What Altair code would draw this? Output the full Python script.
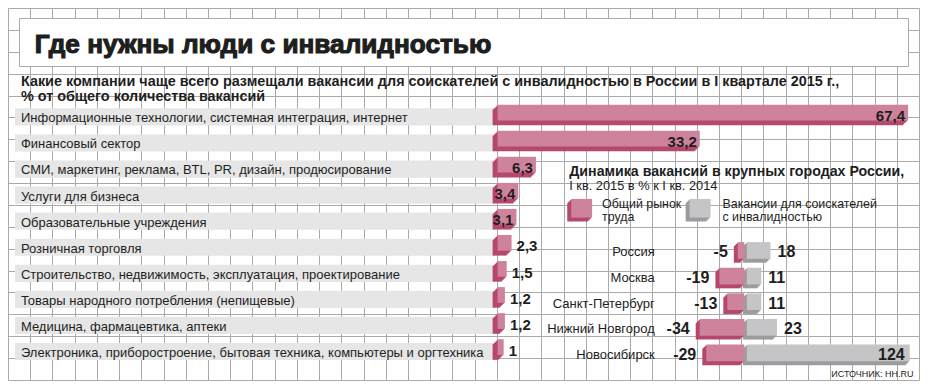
import altair as alt
import pandas as pd
import numpy as np

# ---------------- data ----------------
title_text = "Где нужны люди с инвалидностью"
subtitle_lines = [
    "Какие компании чаще всего размещали вакансии для соискателей с инвалидностью в России в I квартале 2015 г.,",
    "% от общего количества вакансий",
]
categories = [
    "Информационные технологии, системная интеграция, интернет",
    "Финансовый сектор",
    "СМИ, маркетинг, реклама, BTL, PR, дизайн, продюсирование",
    "Услуги для бизнеса",
    "Образовательные учреждения",
    "Розничная торговля",
    "Строительство, недвижимость, эксплуатация, проектирование",
    "Товары народного потребления (непищевые)",
    "Медицина, фармацевтика, аптеки",
    "Электроника, приборостроение, бытовая техника, компьютеры и оргтехника",
]
shares = [67.4, 33.2, 6.3, 3.4, 3.1, 2.3, 1.5, 1.2, 1.2, 1.0]

panel_title = "Динамика вакансий в крупных городах России,"
panel_subtitle = "I кв. 2015 в % к I кв. 2014"
legend_market = ["Общий рынок", "труда"]
legend_disabled = ["Вакансии для соискателей", "с инвалидностью"]
cities = ["Россия", "Москва", "Санкт-Петербург", "Нижний Новгород", "Новосибирск"]
market_change = [-5, -19, -13, -34, -29]
disabled_change = [18, 11, 11, 23, 124]
source_text = "ИСТОЧНИК: HH.RU"

# ---------------- style ----------------
PINK = "#cf829c"
PINK_DARK = "#b5486e"
GREY_BAR = "#c5c5c7"
GREY_DARK = "#9c9c9e"
BAND = "#e6e6e6"
GRID = "#a9a9a9"
TEXT = "#1e1e1e"
FONT = "'Liberation Sans', Arial, sans-serif"

W, H = 912, 373
SX = (W - 1) / (921 - 5.5)
SY = (H - 1) / (383 - 4)


def X(x):
    return 0.5 + (x - 5.5) * SX


def Y(y):
    return 0.5 + (y - 4) * SY


def band(domain, c0, step, shift=0.0):
    n = len(domain)
    return alt.Scale(domain=domain,
                     range=[Y(c0 - step / 2 + shift), Y(c0 + (n - 1) * step + step / 2 + shift)],
                     paddingInner=0, paddingOuter=0)


def lin(domain, r0, r1, dx=0.0):
    return alt.Scale(domain=domain, range=[X(r0 + dx), X(r1 + dx)], nice=False, zero=False)


def one(**kw):
    return alt.Chart(pd.DataFrame([kw]))


layers = []

# background grid
vx = [float(np.floor(X(5.5 + 22.33 * i))) + 0.5 for i in range(42)]
hy = [float(np.floor(Y(4 + 22.294 * j))) + 0.5 for j in range(18)]
layers.append(alt.Chart(pd.DataFrame({"gx": vx})).mark_rule(color=GRID, strokeWidth=1).encode(
    x=alt.X("gx:Q", scale=None), y=alt.value(Y(4)), y2=alt.value(Y(383))))
layers.append(alt.Chart(pd.DataFrame({"gy": hy})).mark_rule(color=GRID, strokeWidth=1).encode(
    y=alt.Y("gy:Q", scale=None), x=alt.value(X(5.5)), x2=alt.value(X(921))))

# title box
layers.append(one(t=title_text).mark_rect(fill="white", stroke=GRID, strokeWidth=1).encode(
    x=alt.value(np.floor(X(17)) + 0.5), x2=alt.value(np.floor(X(910)) + 0.5),
    y=alt.value(np.floor(Y(14)) + 0.5), y2=alt.value(np.floor(Y(63)) + 0.5)))
layers.append(one(t=title_text).mark_text(align="left", baseline="alphabetic", font=FONT,
                                          fontSize=26.2, fontWeight="bold", color=TEXT,
                                          stroke=TEXT, strokeWidth=1.1).encode(
    x=alt.value(X(32)), y=alt.value(Y(49)), text="t:N"))

# subtitle
for i, line in enumerate(subtitle_lines):
    layers.append(one(t=line).mark_text(align="left", baseline="alphabetic", font=FONT,
                                        fontSize=14.4, fontWeight="bold", color=TEXT).encode(
        x=alt.value(X(18)), y=alt.value(Y(82.5 + 15.5 * i)), text="t:N"))

# ---------------- left bar chart ----------------
left = pd.DataFrame({"category": categories, "share": shares})
left["label"] = [f"{v:g}".replace(".", ",") for v in shares]
C0, STEP = 114.5, 26.55
X0, XPU = 497.0, 6.12
XEND = X0 + max(shares) * XPU

# grey label bands
layers.append(alt.Chart(left).mark_bar(color=BAND, height=17.5 * SY).encode(
    x=alt.value(X(12)), x2=alt.value(X(495)),
    y=alt.Y("category:N", scale=band(categories, C0, STEP), axis=None)))
# labels
layers.append(alt.Chart(left).mark_text(align="left", baseline="alphabetic", font=FONT,
                                        fontSize=13, color=TEXT).encode(
    x=alt.value(X(18)),
    y=alt.Y("category:N", scale=band(categories, C0, STEP, 5.5), axis=None),
    text="category:N"))
# 3D bars: extruded side then front face
for k in range(5, 0, -1):
    layers.append(alt.Chart(left).mark_bar(color=PINK_DARK, height=16 * SY).encode(
        x=alt.X("share:Q", scale=lin([0, max(shares)], X0, XEND, -k), axis=None),
        y=alt.Y("category:N", scale=band(categories, C0, STEP, -4.5 + k), axis=None)))
layers.append(alt.Chart(left).mark_bar(color=PINK, height=16 * SY).encode(
    x=alt.X("share:Q", scale=lin([0, max(shares)], X0, XEND), axis=None),
    y=alt.Y("category:N", scale=band(categories, C0, STEP, -4.5), axis=None)))
# value labels
layers.append(alt.Chart(left).transform_filter("datum.share >= 3").mark_text(
    align="right", baseline="alphabetic", font=FONT, fontSize=15, fontWeight="bold",
    color=TEXT, dx=-3).encode(
    x=alt.X("share:Q", scale=lin([0, max(shares)], X0, XEND), axis=None),
    y=alt.Y("category:N", scale=band(categories, C0, STEP, 3.8), axis=None),
    text="label:N"))
layers.append(alt.Chart(left).transform_filter("datum.share < 3").mark_text(
    align="left", baseline="alphabetic", font=FONT, fontSize=15, fontWeight="bold",
    color=TEXT, dx=5).encode(
    x=alt.X("share:Q", scale=lin([0, max(shares)], X0, XEND), axis=None),
    y=alt.Y("category:N", scale=band(categories, C0, STEP, 4.3), axis=None),
    text="label:N"))

# ---------------- right panel ----------------
layers.append(one(t=panel_title).mark_text(align="left", baseline="alphabetic", font=FONT,
                                           fontSize=14.2, fontWeight="bold", color=TEXT).encode(
    x=alt.value(X(569)), y=alt.value(Y(175)), text="t:N"))
layers.append(one(t=panel_subtitle).mark_text(align="left", baseline="alphabetic", font=FONT,
                                              fontSize=12.8, color=TEXT).encode(
    x=alt.value(X(569)), y=alt.value(Y(189)), text="t:N"))

# legend swatches (3D squares)
for (fx, front, dark) in [(571, PINK, PINK_DARK), (690, GREY_BAR, GREY_DARK)]:
    for k in range(4, 0, -1):
        layers.append(one(t="").mark_rect(color=dark).encode(
            x=alt.value(X(fx - k)), x2=alt.value(X(fx + 21 - k)),
            y=alt.value(Y(198 + k)), y2=alt.value(Y(217 + k))))
    layers.append(one(t="").mark_rect(color=front).encode(
        x=alt.value(X(fx)), x2=alt.value(X(fx + 21)),
        y=alt.value(Y(198)), y2=alt.value(Y(217))))
for lx, lines in [(602, legend_market), (723, legend_disabled)]:
    for i, line in enumerate(lines):
        layers.append(one(t=line).mark_text(align="left", baseline="alphabetic", font=FONT,
                                            fontSize=12.4, color=TEXT).encode(
            x=alt.value(X(lx)), y=alt.value(Y(207 + 13.5 * i)), text="t:N"))

# city bars
right = pd.DataFrame({"city": cities, "market": market_change, "disabled": disabled_change})
right["mlabel"] = [str(v) for v in market_change]
right["dlabel"] = [str(v) for v in disabled_change]
RC0, RSTEP = 250.5, 26.1
ZERO, RPU = 747.5, 1.32
DMIN, DMAX = min(market_change), max(disabled_change)
RX0, RX1 = ZERO + DMIN * RPU, ZERO + DMAX * RPU
PSHIFT = -2.5

for k in range(4, 0, -1):
    layers.append(alt.Chart(right).mark_bar(color=GREY_DARK, height=17 * SY).encode(
        x=alt.X("disabled:Q", scale=lin([DMIN, DMAX], RX0, RX1, -k), axis=None),
        y=alt.Y("city:N", scale=band(cities, RC0, RSTEP, k), axis=None)))
layers.append(alt.Chart(right).mark_bar(color=GREY_BAR, height=17 * SY).encode(
    x=alt.X("disabled:Q", scale=lin([DMIN, DMAX], RX0, RX1), axis=None),
    y=alt.Y("city:N", scale=band(cities, RC0, RSTEP), axis=None)))
for k in range(4, 0, -1):
    layers.append(alt.Chart(right).mark_bar(color=PINK_DARK, height=17 * SY).encode(
        x=alt.X("market:Q", scale=lin([DMIN, DMAX], RX0, RX1, PSHIFT - k), axis=None),
        y=alt.Y("city:N", scale=band(cities, RC0, RSTEP, k), axis=None)))
layers.append(alt.Chart(right).mark_bar(color=PINK, height=17 * SY).encode(
    x=alt.X("market:Q", scale=lin([DMIN, DMAX], RX0, RX1, PSHIFT), axis=None),
    y=alt.Y("city:N", scale=band(cities, RC0, RSTEP), axis=None)))

# city names
layers.append(alt.Chart(right).mark_text(align="right", baseline="alphabetic", font=FONT,
                                         fontSize=13, color=TEXT).encode(
    x=alt.value(X(655)),
    y=alt.Y("city:N", scale=band(cities, RC0, RSTEP, 6.0), axis=None),
    text="city:N"))
# city values
layers.append(alt.Chart(right).mark_text(align="right", baseline="alphabetic", font=FONT,
                                         fontSize=16, fontWeight="bold", color=TEXT, dx=-10).encode(
    x=alt.X("market:Q", scale=lin([DMIN, DMAX], RX0, RX1, PSHIFT), axis=None),
    y=alt.Y("city:N", scale=band(cities, RC0, RSTEP, 7.0), axis=None),
    text="mlabel:N"))
layers.append(alt.Chart(right).transform_filter("datum.disabled < 100").mark_text(
    align="left", baseline="alphabetic", font=FONT, fontSize=16, fontWeight="bold",
    color=TEXT, dx=7).encode(
    x=alt.X("disabled:Q", scale=lin([DMIN, DMAX], RX0, RX1), axis=None),
    y=alt.Y("city:N", scale=band(cities, RC0, RSTEP, 7.0), axis=None),
    text="dlabel:N"))
layers.append(alt.Chart(right).transform_filter("datum.disabled >= 100").mark_text(
    align="right", baseline="alphabetic", font=FONT, fontSize=16, fontWeight="bold",
    color=TEXT, dx=-5).encode(
    x=alt.X("disabled:Q", scale=lin([DMIN, DMAX], RX0, RX1), axis=None),
    y=alt.Y("city:N", scale=band(cities, RC0, RSTEP, 7.0), axis=None),
    text="dlabel:N"))

# source
layers.append(one(t=source_text).mark_text(align="right", baseline="alphabetic", font=FONT,
                                           fontSize=9, color=TEXT).encode(
    x=alt.value(X(915)), y=alt.value(Y(379.5)), text="t:N"))

chart = alt.layer(*layers).resolve_scale(x="independent", y="independent").properties(
    width=W, height=H, padding=0, background="white"
).configure_view(stroke=None)

chart.save("out.html", embed_options={"renderer": "svg", "actions": False})
